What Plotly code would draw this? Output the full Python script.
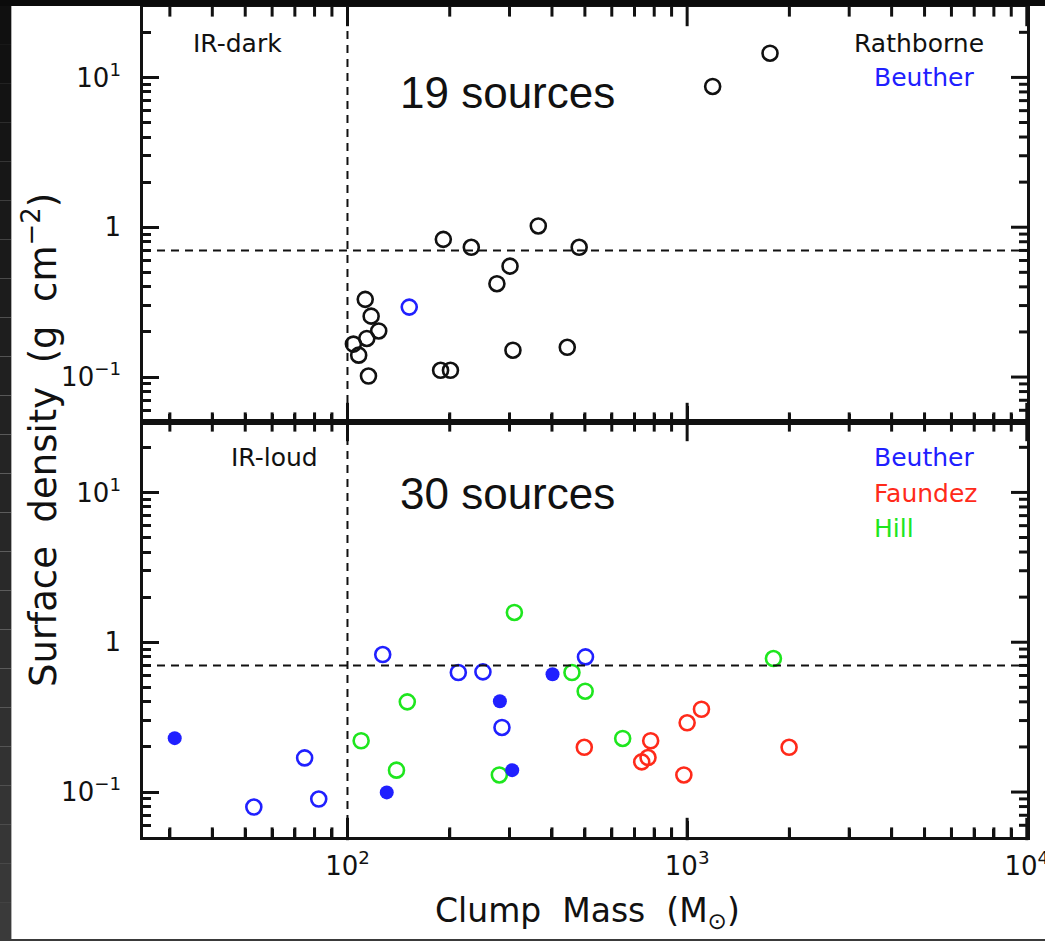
import math
import plotly.graph_objects as go

# ---- data -------------------------------------------------------------
# IR-dark clumps (upper panel)
rathborne_mass = [112.8, 117.4, 123.6, 114.0, 104.1, 107.9, 115.3,
                  191.5, 231.5, 364.6, 481.0, 301.0, 275.4, 188.0, 201.0,
                  307.0, 443.7, 1189.0, 1754.0]
rathborne_sigma = [0.330, 0.255, 0.203, 0.181, 0.166, 0.140, 0.1016,
                   0.83, 0.735, 1.02, 0.735, 0.55, 0.42, 0.111, 0.111,
                   0.151, 0.158, 8.7, 14.5]
beuther_dark_mass = [152.0]
beuther_dark_sigma = [0.293]

# IR-loud clumps (lower panel)
beuther_open_mass = [53.0, 74.8, 82.3, 127.0, 212.0, 250.5, 285.0, 502.0]
beuther_open_sigma = [0.0794, 0.169, 0.0898, 0.828, 0.628, 0.634, 0.27, 0.798]
beuther_filled_mass = [31.0, 130.5, 281.0, 305.5, 401.5]
beuther_filled_sigma = [0.229, 0.0995, 0.404, 0.14, 0.612]
hill_mass = [109.7, 139.4, 150.0, 310.0, 280.0, 458.0, 501.0, 646.0, 1795.0]
hill_sigma = [0.22, 0.14, 0.40, 1.58, 0.13, 0.628, 0.471, 0.228, 0.778]
faundez_mass = [498.0, 781.0, 735.0, 767.0, 1000.0, 1102.0, 978.0, 1996.0]
faundez_sigma = [0.199, 0.22, 0.159, 0.170, 0.29, 0.357, 0.13, 0.199]

# threshold lines
mass_threshold = 100.0
sigma_threshold = 0.7

x_tickvals = [100, 1000, 10000]
x_ticktext = ["10<sup>2</sup>", "10<sup>3</sup>", "10<sup>4</sup>"]
y_tickvals = [0.1, 1, 10]
y_ticktext = ["10<sup>\u22121</sup>", "1", "10<sup>1</sup>"]

BLACK = "#111111"
BLUE = "#2020ff"
RED = "#ff2a1a"
GREEN = "#1ee61e"
FONT = "DejaVu Sans"

# ---- geometry (pixels) --------------------------------------------------
W, H = 1045, 941
L, R, T, B = 143, 1027, 7, 837
PANEL_H = (B - T) / 2
MAJOR_LEN, MINOR_LEN = 16, 8
TICK_W = 3


def px(x):
    return (x - L) / (R - L)


def py(y):
    return (B - y) / (B - T)


fig = go.Figure()

# panel axes: (x, y) = upper, (x2, y2) = lower
PANELS = {1: ("x", "y"), 2: ("x2", "y2")}


def open_circles(x, y, color, panel):
    xa, ya = PANELS[panel]
    fig.add_trace(go.Scatter(
        x=x, y=y, mode="markers", xaxis=xa, yaxis=ya,
        marker=dict(symbol="circle-open", size=15, color=color,
                    line=dict(width=2.6, color=color)),
        showlegend=False, hoverinfo="x+y"))


def filled_circles(x, y, color, panel):
    xa, ya = PANELS[panel]
    fig.add_trace(go.Scatter(
        x=x, y=y, mode="markers", xaxis=xa, yaxis=ya,
        marker=dict(symbol="circle", size=14, color=color,
                    line=dict(width=0)),
        showlegend=False, hoverinfo="x+y"))


open_circles(rathborne_mass, rathborne_sigma, BLACK, 1)
open_circles(beuther_dark_mass, beuther_dark_sigma, BLUE, 1)

open_circles(beuther_open_mass, beuther_open_sigma, BLUE, 2)
open_circles(hill_mass, hill_sigma, GREEN, 2)
open_circles(faundez_mass, faundez_sigma, RED, 2)
filled_circles(beuther_filled_mass, beuther_filled_sigma, BLUE, 2)

# ---- axes ---------------------------------------------------------------
x_range = [1.398, 4.0006]
y_range = [-1.30, 1.47]


def log_ticks(rng):
    """Major (decade) and minor (2..9 x decade) tick values inside rng."""
    lo, hi = 10 ** rng[0], 10 ** rng[1]
    major, minor = [], []
    for e in range(math.floor(rng[0]) - 1, math.ceil(rng[1]) + 1):
        d = 10.0 ** e
        if lo <= d <= hi:
            major.append(d)
        for k in range(2, 10):
            v = k * d
            if lo < v < hi:
                minor.append(v)
    return major, minor


x_major, x_minor = log_ticks(x_range)
y_major, y_minor = log_ticks(y_range)


def log_axis(rng, tickvals, ticktext, labels, standoff, minor_vals, **kw):
    d = dict(
        type="log", range=rng, showgrid=False, zeroline=False,
        showline=True, linewidth=2.6, linecolor=BLACK, mirror=True,
        ticks="inside", ticklen=MAJOR_LEN, tickwidth=TICK_W,
        tickcolor=BLACK,
        tickmode="array", tickvals=tickvals, ticktext=ticktext,
        showticklabels=labels, ticklabelstandoff=standoff,
        ticklabeloverflow="allow", automargin=False,
        minor=dict(ticks="inside", ticklen=MINOR_LEN, tickwidth=TICK_W,
                   tickcolor=BLACK, tickmode="array", tickvals=minor_vals,
                   showgrid=False),
        tickfont=dict(family=FONT, size=26, color=BLACK),
    )
    d.update(kw)
    return d


fig.update_layout(
    xaxis=log_axis(x_range, x_tickvals, x_ticktext, False, 4, x_minor,
                   domain=[0, 1], anchor="y"),
    yaxis=log_axis(y_range, y_tickvals, y_ticktext, True, 14, y_minor,
                   domain=[0.5, 1.0], anchor="x"),
    xaxis2=log_axis(x_range, x_tickvals, x_ticktext, True, 4, x_minor,
                    domain=[0, 1], anchor="y2"),
    yaxis2=log_axis(y_range, y_tickvals, y_ticktext, True, 14, y_minor,
                    domain=[0.0, 0.5], anchor="x2"),
)

# x tick marks on the top and bottom edge of every panel: vertical-bar
# markers centred half a tick length inside each edge
dec_per_px = (y_range[1] - y_range[0]) / PANEL_H
for xa, ya in PANELS.values():
    for vals, ln in ((x_major, MAJOR_LEN), (x_minor, MINOR_LEN)):
        tx, ty = [], []
        for v in vals:
            for edge, sgn in ((y_range[1], -1), (y_range[0], +1)):
                tx.append(v)
                ty.append(10 ** (edge + sgn * (ln / 2) * dec_per_px))
        fig.add_trace(go.Scatter(
            x=tx, y=ty, xaxis=xa, yaxis=ya, mode="markers",
            marker=dict(symbol="line-ns", size=ln, color=BLACK,
                        line=dict(color=BLACK, width=TICK_W)),
            cliponaxis=False, showlegend=False, hoverinfo="skip"))

# y tick marks on the right edge of every panel
tick_line = dict(color=BLACK, width=TICK_W)
for xa, ya in PANELS.values():
    for vals, ln in ((y_major, MAJOR_LEN), (y_minor, MINOR_LEN)):
        for v in vals:
            fig.add_shape(type="line", xref="paper", yref=ya,
                          x0=1, x1=1 - ln / (R - L), y0=v, y1=v,
                          line=tick_line)

# ---- reference lines ----------------------------------------------------
dash = "8px,6px"
fig.add_shape(type="line", xref="x", yref="paper",
              x0=mass_threshold, x1=mass_threshold, y0=0, y1=1,
              line=dict(color=BLACK, width=2, dash=dash))
for xr, yr in (("x domain", "y"), ("x2 domain", "y2")):
    fig.add_shape(type="line", xref=xr, yref=yr, x0=0, x1=1,
                  y0=sigma_threshold, y1=sigma_threshold,
                  line=dict(color=BLACK, width=2, dash=dash))

# ---- dark surround ------------------------------------------------------
fig.add_shape(type="rect", xref="paper", yref="paper", layer="above",
              x0=px(0), x1=px(W), y0=py(0), y1=py(6),
              fillcolor="#0b0b0b", line=dict(width=0))
n_steps = 24
for i in range(n_steps):
    y0 = 6 + (H - 6) * i / n_steps
    y1 = 6 + (H - 6) * (i + 1) / n_steps
    g = int(16 + (58 - 16) * i / (n_steps - 1))
    fig.add_shape(type="rect", xref="paper", yref="paper", layer="above",
                  x0=px(0), x1=px(11), y0=py(y0), y1=py(y1),
                  fillcolor=f"rgb({g},{g},{g})", line=dict(width=0))
fig.add_shape(type="rect", xref="paper", yref="paper", layer="above",
              x0=px(11), x1=px(12), y0=py(6), y1=py(H),
              fillcolor="#b0b0b0", line=dict(width=0))
fig.add_shape(type="rect", xref="paper", yref="paper", layer="above",
              x0=px(0), x1=px(W), y0=py(939), y1=py(H),
              fillcolor="#3a3a3a", line=dict(width=0))


# ---- text ---------------------------------------------------------------
def label(x, y, text, color=BLACK, size=25, family=FONT, anchor="left"):
    fig.add_annotation(xref="paper", yref="paper", x=px(x), y=py(y),
                       text=text, showarrow=False, xanchor=anchor,
                       yanchor="middle",
                       font=dict(family=family, size=size, color=color))


label(191, 43, "IR-dark")
label(986, 43, "Rathborne", anchor="right")
label(976, 78, "Beuther", BLUE, anchor="right")
label(398, 93, "19 sources", size=44, family="Liberation Sans")

label(229, 457, "IR-loud")
label(872, 457, "Beuther", BLUE)
label(872, 493, "Faundez", RED)
label(872, 528, "Hill", GREEN)
label(398, 493, "30 sources", size=44, family="Liberation Sans")

# axis titles
fig.add_annotation(xref="paper", yref="paper", x=px(587), y=py(912),
                   text="Clump  Mass  (M<sub>\u2299</sub>)", showarrow=False,
                   xanchor="center", yanchor="middle",
                   font=dict(family=FONT, size=33, color=BLACK))
fig.add_annotation(xref="paper", yref="paper", x=px(40), y=py(440),
                   text="Surface  density  (g  cm<sup>\u22122</sup>)",
                   showarrow=False, textangle=-90,
                   xanchor="center", yanchor="middle",
                   font=dict(family=FONT, size=37, color=BLACK))

fig.update_layout(
    width=W, height=H,
    margin=dict(l=L, r=W - R, t=T, b=H - B, autoexpand=False),
    paper_bgcolor="white", plot_bgcolor="white",
    showlegend=False,
)

fig.write_html("out.html")
